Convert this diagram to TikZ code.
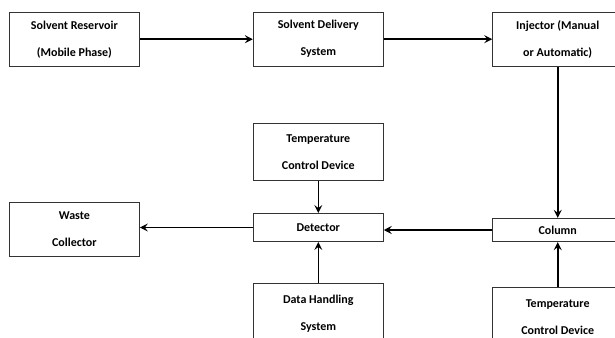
\documentclass[tikz,border=0pt]{standalone}
\usepackage{fontspec}
\setmainfont{Carlito}
\usetikzlibrary{arrows.meta}
\begin{document}
\begin{tikzpicture}[x=1pt, y=-1pt,
	box/.style={draw=black!80, line width=0.9pt, minimum width=130pt, inner sep=0pt, align=center,
		font={\bfseries\fontsize{12}{27}\selectfont}},
	flow/.style={-{Stealth[length=8pt, width=8pt, inset=3pt]}, line width=1.6pt}]
	\useasboundingbox (0,0) rectangle (615,337);
	\clip (0,0) rectangle (615,337);
	
	% ==================== 第一行 ====================
	\node[box, minimum height=53.7pt] (reservoir) at (74.4,39.2) {Solvent Reservoir\\(Mobile Phase)};
	\node[box, minimum height=53.7pt] (delivery) at (318.3,39.2) {Solvent Delivery\\System};
	\node[box, minimum height=53.7pt] (injector) at (557.7,39.2) {Injector (Manual\\or Automatic)};
	
	% ==================== 中间 ====================
	\node[box, minimum height=56.7pt] (tempA) at (318.3,151.7) {Temperature\\Control Device};
	\node[box, minimum height=53.7pt] (waste) at (74.4,229.2) {Waste\\Collector};
	\node[box, minimum height=28pt] (detector) at (318.3,227.5) {Detector};
	\node[box, minimum height=23.4pt] (column) at (557.7,230) {Column};
	
	% ==================== 底行（被裁切） ====================
	\node[box, minimum height=60pt] (data) at (318.3,313.3) {Data Handling\\System};
	\node[box, minimum height=60pt] (tempB) at (557.7,317.3) {Temperature\\Control Device};
	
	% 流程箭头
	\draw[flow] (reservoir.east) -- (delivery.west);
	\draw[flow] (delivery.east) -- (injector.west);
	\draw[flow] (injector.south) -- (column.north);
	\draw[flow] (column.west) -- (column.west -| detector.east);
	\draw[flow] (detector.west) -- (detector.west -| waste.east);
	\draw[flow] (tempA.south) -- (detector.north);
	\draw[flow] (data.north) -- (detector.south);
	\draw[flow] (tempB.north) -- (column.south);
\end{tikzpicture}
\end{document}
